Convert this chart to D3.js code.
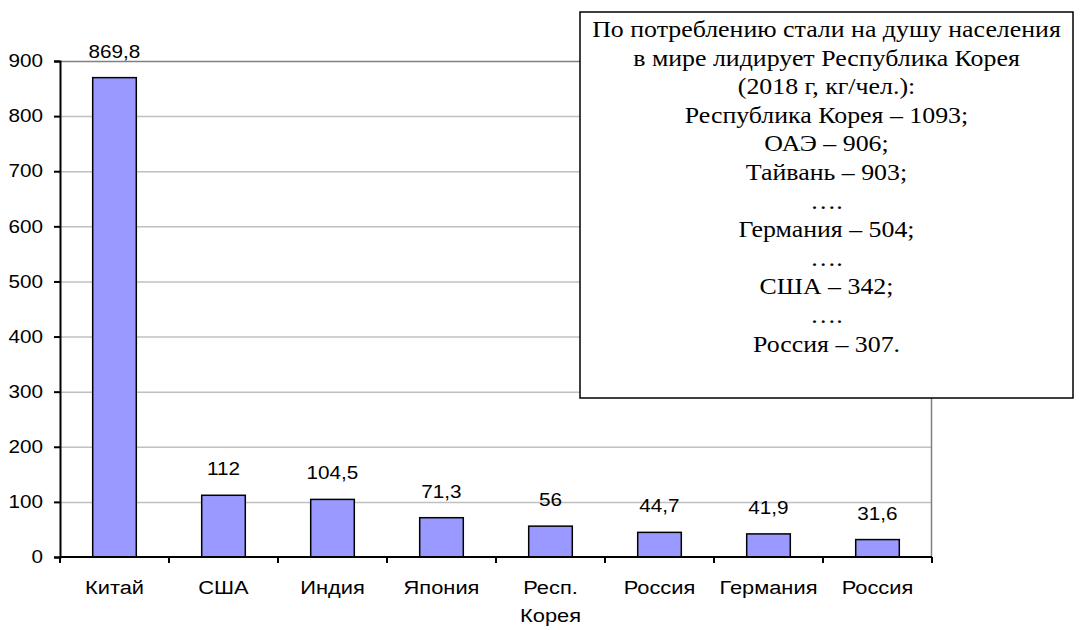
<!DOCTYPE html>
<html>
<head>
<meta charset="utf-8">
<script src="https://cdn.jsdelivr.net/npm/d3@7"></script>
<style>
  body { margin: 0; background: #fff; }
  svg { display: block; }
</style>
</head>
<body>
<svg width="1083" height="630"></svg>
<script>
var categories = ['Китай', 'США', 'Индия', 'Япония', 'Респ.\nКорея', 'Россия', 'Германия', 'Россия'];
var values = [869.8, 112, 104.5, 71.3, 56, 44.7, 41.9, 31.6];
var yTicks = [0, 100, 200, 300, 400, 500, 600, 700, 800, 900];
var noteLines = [
  'По потреблению стали на душу населения',
  'в мире лидирует Республика Корея',
  '(2018 г, кг/чел.):',
  'Республика Корея – 1093;',
  'ОАЭ – 906;',
  'Тайвань – 903;',
  '….',
  'Германия – 504;',
  '….',
  'США – 342;',
  '….',
  'Россия – 307.'
];

var svg = d3.select('svg');
var plotLeft = 60, plotRight = 932, plotTop = 61, plotBottom = 557;
var stretch = 1.15; // the reference text is a bit wider than tall
var sans = 'Liberation Sans, Arial, sans-serif';

var x = d3.scaleBand()
  .domain(d3.range(categories.length))
  .range([plotLeft, plotRight])
  .paddingInner(0.6)
  .paddingOuter(0.3);

var y = d3.scaleLinear()
  .domain([0, 900])
  .range([plotBottom, plotTop]);

function place(px, py) {
  return 'translate(' + px + ',' + py + ') scale(' + stretch + ',1)';
}

// gridlines
svg.append('g')
  .selectAll('line')
  .data(yTicks.slice(1))
  .enter()
  .append('line')
  .attr('x1', plotLeft)
  .attr('x2', plotRight)
  .attr('y1', d => y(d) + 0.5)
  .attr('y2', d => y(d) + 0.5)
  .attr('stroke', d => d === 900 ? '#808080' : '#c0c0c0')
  .attr('stroke-width', 1.5);

// right border of plot
svg.append('line')
  .attr('x1', plotRight - 0.5).attr('x2', plotRight - 0.5)
  .attr('y1', plotTop).attr('y2', plotBottom)
  .attr('stroke', '#808080')
  .attr('stroke-width', 1.5);

// bars
svg.append('g')
  .selectAll('rect')
  .data(values)
  .enter()
  .append('rect')
  .attr('x', (d, i) => x(i))
  .attr('y', d => y(d))
  .attr('width', x.bandwidth())
  .attr('height', d => plotBottom - y(d))
  .attr('fill', '#9999ff')
  .attr('stroke', '#000')
  .attr('stroke-width', 1.5);

// value labels
svg.append('g')
  .selectAll('text')
  .data(values)
  .enter()
  .append('text')
  .attr('transform', (d, i) => place(x(i) + x.bandwidth() / 2, y(d) - 20))
  .attr('text-anchor', 'middle')
  .attr('font-family', sans)
  .attr('font-size', 18)
  .attr('fill', '#000')
  .text(d => String(d).replace('.', ','));

// y axis
var yAxis = svg.append('g')
  .attr('transform', 'translate(' + plotLeft + ',0)')
  .call(d3.axisLeft(y).tickValues(yTicks).tickSize(6).tickPadding(0).tickFormat(d3.format('d')));
yAxis.select('.domain').attr('stroke', '#000').attr('stroke-width', 2);
yAxis.selectAll('.tick line').attr('stroke', '#000').attr('stroke-width', 2);
yAxis.selectAll('.tick text')
  .attr('x', null)
  .attr('transform', 'translate(-17,0) scale(' + stretch + ',1)')
  .attr('font-family', sans)
  .attr('font-size', 18)
  .attr('fill', '#000');

// x axis
var step = x.step();
var bounds = d3.range(categories.length + 1).map(i => plotLeft + i * step);
svg.append('line')
  .attr('x1', plotLeft).attr('x2', plotRight)
  .attr('y1', plotBottom).attr('y2', plotBottom)
  .attr('stroke', '#000').attr('stroke-width', 2);
svg.append('g')
  .selectAll('line')
  .data(bounds)
  .enter()
  .append('line')
  .attr('x1', d => d).attr('x2', d => d)
  .attr('y1', plotBottom).attr('y2', plotBottom + 6)
  .attr('stroke', '#000').attr('stroke-width', 2);

var catText = svg.append('g')
  .selectAll('text')
  .data(categories)
  .enter()
  .append('text')
  .attr('transform', (d, i) => place(x(i) + x.bandwidth() / 2, 594))
  .attr('text-anchor', 'middle')
  .attr('font-family', sans)
  .attr('font-size', 19)
  .attr('fill', '#000');
catText.each(function(d) {
  var t = d3.select(this);
  d.split('\n').forEach((p, j) => {
    t.append('tspan')
      .attr('x', 0)
      .attr('dy', j === 0 ? 0 : 28)
      .text(p);
  });
});

// note box
var boxX = 580, boxY = 12, boxW = 493, boxH = 386;
svg.append('rect')
  .attr('x', boxX).attr('y', boxY)
  .attr('width', boxW).attr('height', boxH)
  .attr('fill', '#fff')
  .attr('stroke', '#000')
  .attr('stroke-width', 1.5);

svg.append('g')
  .selectAll('text')
  .data(noteLines)
  .enter()
  .append('text')
  .attr('transform', (d, i) => place(boxX + boxW / 2, 37 + i * 28.6))
  .attr('text-anchor', 'middle')
  .attr('font-family', 'Liberation Serif, Times New Roman, serif')
  .attr('font-size', 22.5)
  .attr('fill', '#000')
  .text(d => d);
</script>
</body>
</html>
